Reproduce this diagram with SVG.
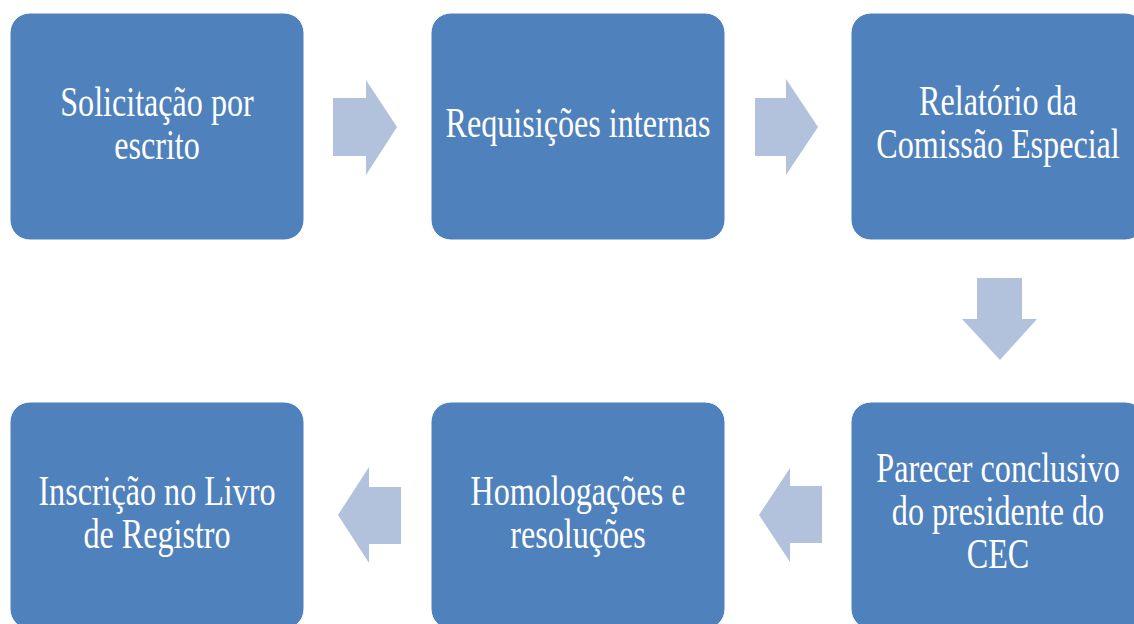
<svg xmlns="http://www.w3.org/2000/svg" width="1134" height="624" viewBox="0 0 1134 624">
<style>
.box{fill:#4F81BD;stroke:#ffffff;stroke-width:1}
.arr{fill:#B2C2DD}
.t{font-family:"Liberation Serif","Times New Roman",serif;font-size:42px;fill:#ffffff;text-anchor:middle}
</style>
<rect width="1134" height="624" fill="#ffffff"/>
<g id="connectors">
<polygon class="arr" points="333,98 366,98 366,80 397,127 366,175 366,156 333,156"/>
<polygon class="arr" points="755,98 786,98 786,79 818,127 786,175 786,156 755,156"/>
<polygon class="arr" points="977,278 1022,278 1022,319 1037,319 1000,360 962,319 977,319"/>
<polygon class="arr" points="822,486 790,486 790,468 759,515 790,562 790,543 822,543"/>
<polygon class="arr" points="401,487 369,487 369,467 338,515 369,563 369,544 401,544"/>
</g>
<g id="node1">
<rect class="box" x="10" y="13" width="294" height="227" rx="20"/>
<g transform="translate(157,0) scale(0.765,1)"><text class="t" x="0" y="116">Solicitação por</text><text class="t" x="0" y="159">escrito</text></g>
</g>
<g id="node2">
<rect class="box" x="431" y="13" width="294" height="227" rx="20"/>
<g transform="translate(578,0) scale(0.765,1)"><text class="t" x="0" y="137">Requisições internas</text></g>
</g>
<g id="node3">
<rect class="box" x="851" y="13" width="294" height="227" rx="20"/>
<g transform="translate(998,0) scale(0.765,1)"><text class="t" x="0" y="115">Relatório da</text><text class="t" x="0" y="158">Comissão Especial</text></g>
</g>
<g id="node4">
<rect class="box" x="851" y="402" width="294" height="227" rx="20"/>
<g transform="translate(998,0) scale(0.765,1)"><text class="t" x="0" y="482">Parecer conclusivo</text><text class="t" x="0" y="525">do presidente do</text><text class="t" x="0" y="568">CEC</text></g>
</g>
<g id="node5">
<rect class="box" x="431" y="402" width="294" height="227" rx="20"/>
<g transform="translate(578,0) scale(0.765,1)"><text class="t" x="0" y="505">Homologações e</text><text class="t" x="0" y="548">resoluções</text></g>
</g>
<g id="node6">
<rect class="box" x="10" y="402" width="294" height="227" rx="20"/>
<g transform="translate(157,0) scale(0.765,1)"><text class="t" x="0" y="505">Inscrição no Livro</text><text class="t" x="0" y="548">de Registro</text></g>
</g>
</svg>
